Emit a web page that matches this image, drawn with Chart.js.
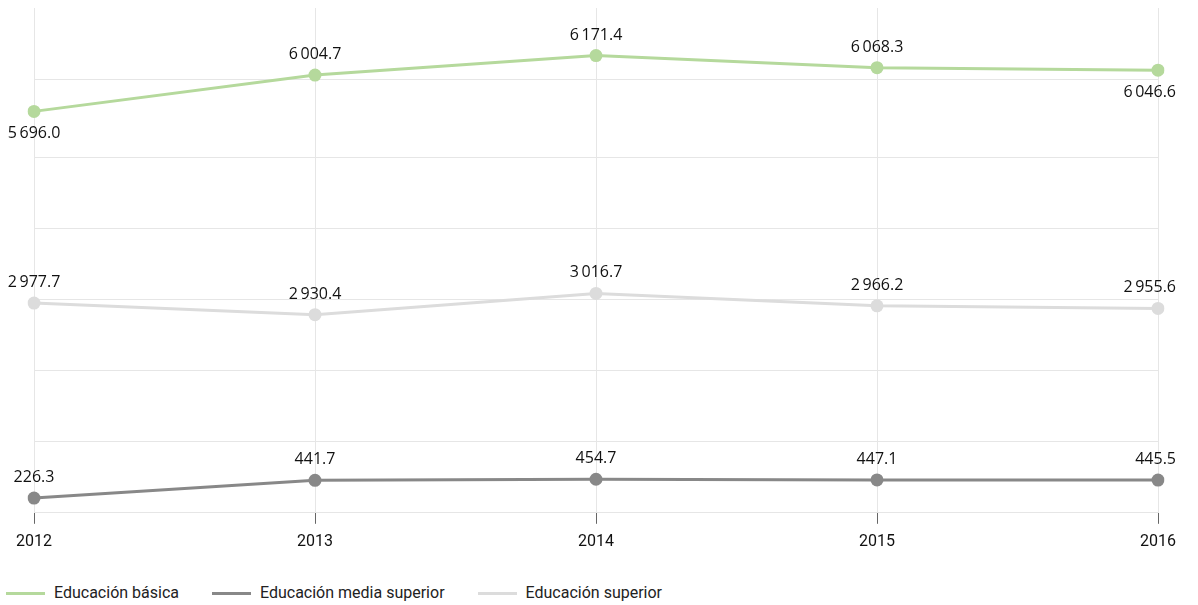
<!DOCTYPE html>
<html lang="es">
<head>
<meta charset="utf-8">
<script src="https://cdn.jsdelivr.net/npm/chart.js@4"></script>
<style>
  body { margin: 0; background: #fff; }
  #wrap { position: relative; width: 1198px; height: 567px; }
  #legend { display: flex; margin: 17px 0 0 6px; font: 16px Roboto, sans-serif; color: #222; }
  .item { display: flex; align-items: center; margin-right: 33px; line-height: 18px; }
  .swatch { width: 39px; height: 3px; margin-right: 9px; }
</style>
</head>
<body>
<div id="wrap"><canvas id="chart"></canvas></div>
<div id="legend"></div>
<script>
const years = ['2012', '2013', '2014', '2015', '2016'];
const basica = [5696.0, 6004.7, 6171.4, 6068.3, 6046.6];
const mediaSuperior = [226.3, 441.7, 454.7, 447.1, 445.5];
const superior = [2977.7, 2930.4, 3016.7, 2966.2, 2955.6];
const basicaLabelSide = ['below', 'above', 'above', 'above', 'below'];
const gridTicks = [0, 1, 2, 3, 4, 5, 6.1];

const GREEN = '#b5d99c';
const DARK = '#888888';
const LIGHT = '#dcdcdc';

function formatValue(v) {
  const [int, dec] = v.toFixed(1).split('.');
  return int.replace(/\B(?=(\d{3})+(?!\d))/g, '\u2009') + '.' + dec;
}

// draws the value above/below each point
const pointLabels = {
  id: 'pointLabels',
  afterDatasetsDraw(chart) {
    const ctx = chart.ctx;
    const area = chart.chartArea;
    ctx.save();
    ctx.font = '16px "Open Sans", sans-serif';
    ctx.fillStyle = '#111';
    ctx.textAlign = 'center';
    ctx.textBaseline = 'alphabetic';
    chart.data.datasets.forEach((ds, i) => {
      const meta = chart.getDatasetMeta(i);
      meta.data.forEach((pt, j) => {
        const text = formatValue(ds.data[j]);
        const side = ds.labelSide ? ds.labelSide[j] : 'above';
        const w = ctx.measureText(text).width;
        let x = pt.x;
        if (x + w / 2 > area.right + 18) x = area.right + 18 - w / 2;
        const y = side === 'below' ? pt.y + 27 : pt.y - 16;
        ctx.fillText(text, x, y);
      });
    });
    ctx.restore();
  }
};

function line(label, data, color, axis, extra) {
  return Object.assign({
    label: label,
    data: data,
    yAxisID: axis,
    borderColor: color,
    backgroundColor: color,
    borderWidth: 3,
    pointRadius: 6.5,
    pointBorderWidth: 0,
    pointBackgroundColor: color,
    tension: 0,
    fill: false
  }, extra || {});
}

const datasets = [
  line('Educación básica', basica, GREEN, 'yB', { labelSide: basicaLabelSide }),
  line('Educación media superior', mediaSuperior, DARK, 'yM'),
  line('Educación superior', superior, LIGHT, 'yS')
];

new Chart('chart', {
  type: 'line',
  data: { labels: years, datasets: datasets },
  options: {
    responsive: true,
    maintainAspectRatio: false,
    animation: false,
    layout: { padding: { left: 34, right: 40, top: 8, bottom: 6 } },
    plugins: {
      legend: { display: false },
      tooltip: { enabled: false }
    },
    scales: {
      x: {
        offset: false,
        grid: { color: '#e6e6e6', tickColor: '#666', tickLength: 11 },
        border: { display: false },
        ticks: { color: '#111', font: { family: 'Roboto', size: 16 }, padding: 9, maxRotation: 0 }
      },
      yGrid: {
        position: 'left',
        min: 0,
        max: 7.1,
        afterBuildTicks(axis) {
          axis.ticks = gridTicks.map(v => ({ value: v }));
        },
        ticks: { display: false },
        grid: { color: '#e6e6e6', drawTicks: false },
        border: { display: false }
      },
      yB: { display: false, min: 2279, max: 6576 },
      yM: { display: false, min: 47, max: 6186 },
      yS: { display: false, min: 2125, max: 4177 }
    }
  },
  plugins: [pointLabels]
});

const legend = document.getElementById('legend');
datasets.forEach(ds => {
  const item = document.createElement('div');
  item.className = 'item';
  const sw = document.createElement('span');
  sw.className = 'swatch';
  sw.style.background = ds.borderColor;
  const txt = document.createElement('span');
  txt.textContent = ds.label;
  item.appendChild(sw);
  item.appendChild(txt);
  legend.appendChild(item);
});
</script>
</body>
</html>
